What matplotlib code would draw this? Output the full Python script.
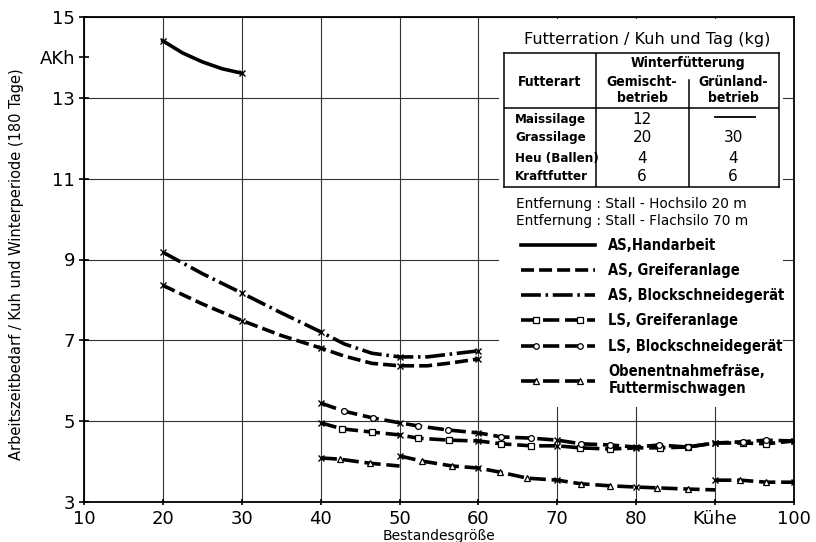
import numpy as np
import matplotlib.pyplot as plt
from matplotlib.lines import Line2D
from matplotlib.patches import Rectangle
from matplotlib.legend_handler import HandlerLine2D, HandlerTuple

# Bestandesgröße (Kühe) -> Arbeitszeitbedarf (AKh / Kuh, 180 Tage)
hand_x = [20, 22.5, 25, 27.5, 30]
hand_y = [14.41, 14.11, 13.89, 13.72, 13.61]

as_greif_x = [20, 25, 30, 35, 40, 43, 46.5, 50, 53.5, 56.5, 60]
as_greif_y = [8.36, 7.90, 7.49, 7.12, 6.81, 6.61, 6.43, 6.37, 6.37, 6.44, 6.54]

as_block_x = [20, 25, 30, 35, 40, 43, 46.5, 50, 53.5, 56.5, 60]
as_block_y = [9.18, 8.65, 8.17, 7.68, 7.21, 6.91, 6.68, 6.59, 6.59, 6.66, 6.74]

ls_greif_x = [40, 42.7, 46.5, 50, 52.3, 56.3, 60, 62.9, 66.7, 70, 72.9, 76.7, 80, 83, 86.5, 90, 93.5, 96.5, 100]
ls_greif_y = [4.96, 4.81, 4.73, 4.66, 4.58, 4.53, 4.51, 4.44, 4.39, 4.39, 4.34, 4.31, 4.34, 4.34, 4.36, 4.46, 4.46, 4.44, 4.51]

ls_block_x = [40, 42.9, 46.6, 50, 52.4, 56.2, 60, 62.9, 66.7, 70, 73, 76.7, 80, 82.9, 86.5, 90, 93.5, 96.5, 100]
ls_block_y = [5.45, 5.25, 5.08, 4.96, 4.88, 4.78, 4.71, 4.61, 4.58, 4.53, 4.44, 4.41, 4.36, 4.41, 4.36, 4.46, 4.49, 4.53, 4.51]

# Obenentnahmefräse: drei Abschnitte (Sprünge bei 50 und 90 Kühen)
ob_x1 = [40, 42.4, 46.2, 50]
ob_y1 = [4.09, 4.06, 3.96, 3.89]
ob_x2 = [50, 52.9, 56.7, 60, 62.7, 66.2, 70, 73, 76.7, 80, 82.6, 86.5, 90]
ob_y2 = [4.14, 4.01, 3.89, 3.84, 3.74, 3.59, 3.54, 3.45, 3.40, 3.37, 3.35, 3.32, 3.30]
ob_x3 = [90, 93.2, 96.5, 100]
ob_y3 = [3.54, 3.54, 3.49, 3.49]

x_ticks = [10, 20, 30, 40, 50, 60, 70, 80, 90, 100]
x_labels = ['10', '20', '30', '40', '50', '60', '70', '80', 'Kühe', '100']
y_ticks = [3, 5, 7, 9, 11, 13, 15]

# Tabelle Futterration
futterart = ['Maissilage', 'Grassilage', 'Heu (Ballen)', 'Kraftfutter']
gemischt = [12, 20, 4, 6]
gruenland = [None, 30, 4, 6]

legend_labels = ['AS,Handarbeit', 'AS, Greiferanlage', 'AS, Blockschneidegerät',
                 'LS, Greiferanlage', 'LS, Blockschneidegerät',
                 'Obenentnahmefräse,\nFuttermischwagen']

NARROW = {'family': 'DejaVu Sans', 'stretch': 'condensed', 'weight': 'bold'}
LW = 2.6
DASH = (0, (3.6, 1.4))
DASHDOT = (0, (5.5, 1.3, 0.7, 1.3))
SYMDASH = (0, (4.5, 1.6))


def curve(ax, xs, ys, ls, sym=None, x_end=True):
    xs = np.array(xs, dtype=float)
    ys = np.array(ys, dtype=float)
    ax.plot(xs, ys, color='black', lw=LW, linestyle=ls, dash_capstyle='butt', zorder=3)
    tens = xs % 10 == 0
    other = ~tens
    if not x_end:
        tens[-1] = False
    ax.plot(xs[tens], ys[tens], 'x', color='black', ms=4.5, mew=1.0, zorder=4)
    if sym:
        ax.plot(xs[other], ys[other], sym, color='black', mfc='white', ms=4.2, mew=0.9, zorder=4)


fig = plt.figure(figsize=(8.16, 5.42), dpi=100)
ax = fig.add_axes([84 / 816, 1 - 502 / 542, 710 / 816, 485 / 542])
ax.set_xlim(10, 100)
ax.set_ylim(3, 15)
ax.set_axisbelow(True)

ax.set_xticks(x_ticks)
ax.set_xticklabels(x_labels)
ax.set_yticks(y_ticks)
ax.set_yticks([14], minor=True)
ax.set_yticklabels(['AKh'], minor=True)
ax.tick_params(which='both', direction='inout', length=7, width=1.2, labelsize=13, pad=3)
ax.tick_params(axis='x', which='both', length=5, pad=3)
ax.grid(which='major', color='#333333', linewidth=0.8)
for s in ax.spines.values():
    s.set_linewidth(1.3)

# weisser Bereich hinter Tabelle und Legende
ax.add_patch(Rectangle((62.6, 5.35), 36.0, 9.6, facecolor='white', edgecolor='none', zorder=1))

curve(ax, hand_x, hand_y, '-')
curve(ax, as_greif_x, as_greif_y, DASH)
curve(ax, as_block_x, as_block_y, DASHDOT)
curve(ax, ls_greif_x, ls_greif_y, SYMDASH, 's')
curve(ax, ls_block_x, ls_block_y, SYMDASH, 'o')
curve(ax, ob_x1, ob_y1, SYMDASH, '^', x_end=False)
curve(ax, ob_x2, ob_y2, SYMDASH, '^', x_end=False)
curve(ax, ob_x3, ob_y3, SYMDASH, '^')

ax.set_xlabel('Bestandesgröße', fontsize=10)
ax.xaxis.set_label_coords(0.5, -0.056)
ax.set_ylabel('Arbeitszeitbedarf / Kuh und Winterperiode (180 Tage)', fontsize=10.5)
ax.yaxis.set_label_coords(-0.085, 0.49)

# Legende: Linie über die ganze Länge, Symbole eingerückt
handles = []
marker_pad = {}
for ls, sym in [('-', None), (DASH, None), (DASHDOT, None),
                (SYMDASH, 's'), (SYMDASH, 'o'), (SYMDASH, '^')]:
    line = Line2D([], [], color='black', lw=LW, linestyle=ls)
    if sym is None:
        handles.append(line)
    else:
        mk = Line2D([], [], color='black', linestyle='none', marker=sym, mfc='white', ms=4, mew=0.9)
        marker_pad[mk] = HandlerLine2D(marker_pad=1.35)
        handles.append((line, mk))

hmap = {tuple: HandlerTuple(ndivide=1, pad=0)}
hmap.update(marker_pad)
leg = ax.legend(handles, legend_labels, loc='upper left', bbox_to_anchor=(0.609, 0.628),
                frameon=False, numpoints=2, handlelength=5.7, handletextpad=0.6,
                labelspacing=0.7, borderaxespad=0, borderpad=0,
                handler_map=hmap,
                title='Entfernung : Stall - Hochsilo 20 m\nEntfernung : Stall - Flachsilo 70 m',
                title_fontsize=9.8, alignment='left',
                prop=dict(NARROW, size=10.5))
leg.set_zorder(5)

# Tabelle
tab = fig.add_axes([504 / 816, 1 - 187 / 542, 275 / 816, 134 / 542])
tab.set_xlim(0, 1)
tab.set_ylim(0, 1)
tab.set_xticks([])
tab.set_yticks([])
tab.patch.set_facecolor('white')
for s in tab.spines.values():
    s.set_linewidth(1.1)
tab.axhline(0.59, color='black', lw=1.1)
tab.axvline(0.335, color='black', lw=1.1)
tab.plot([0.673, 0.673], [0, 0.80], color='black', lw=1.1)

tab.text(0.52, 1.1, 'Futterration / Kuh und Tag (kg)', ha='center', va='center', fontsize=11.5, clip_on=False)
hb = dict(NARROW, fontsize=10, ha='center', va='center')
tab.text(0.669, 0.925, 'Winterfütterung', **hb)
tab.text(0.164, 0.78, 'Futterart', **hb)
tab.text(0.502, 0.78, 'Gemischt-', **hb)
tab.text(0.502, 0.665, 'betrieb', **hb)
tab.text(0.833, 0.78, 'Grünland-', **hb)
tab.text(0.833, 0.665, 'betrieb', **hb)

row_v = [0.507, 0.366, 0.216, 0.075]
for name, g, gr, v in zip(futterart, gemischt, gruenland, row_v):
    tab.text(0.04, v, name, fontsize=9.5, ha='left', va='center', **NARROW)
    tab.text(0.502, v, str(g), fontsize=11, ha='center', va='center')
    if gr is None:
        tab.plot([0.767, 0.913], [v + 0.015, v + 0.015], color='black', lw=1.3)
    else:
        tab.text(0.833, v, str(gr), fontsize=11, ha='center', va='center')

fig.savefig('out.png', dpi=100)
